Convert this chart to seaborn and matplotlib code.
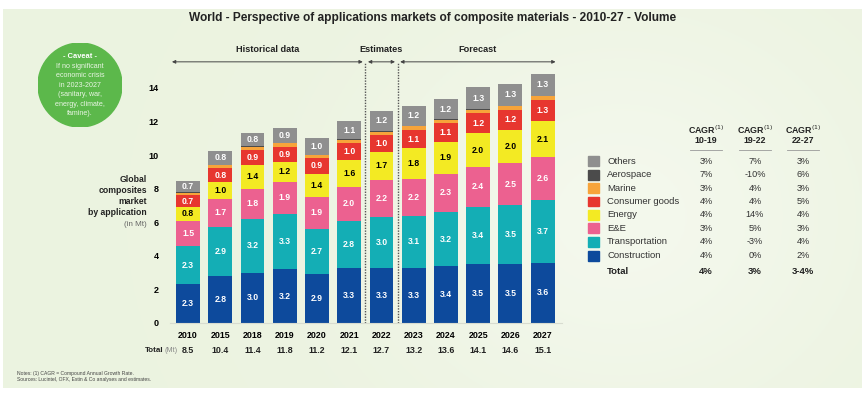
import numpy as np
import pandas as pd
import seaborn as sns
import matplotlib.pyplot as plt
from matplotlib.patches import Circle, Rectangle

years = ['2010', '2015', '2018', '2019', '2020', '2021', '2022', '2023', '2024', '2025', '2026', '2027']
totals = ['8.5', '10.4', '11.4', '11.8', '11.2', '12.1', '12.7', '13.2', '13.6', '14.1', '14.6', '15.1']

construction = [2.3, 2.8, 3.0, 3.2, 2.9, 3.3, 3.3, 3.3, 3.4, 3.5, 3.5, 3.6]
transportation = [2.3, 2.9, 3.2, 3.3, 2.7, 2.8, 3.0, 3.1, 3.2, 3.4, 3.5, 3.7]
ee = [1.5, 1.7, 1.8, 1.9, 1.9, 2.0, 2.2, 2.2, 2.3, 2.4, 2.5, 2.6]
energy = [0.8, 1.0, 1.4, 1.2, 1.4, 1.6, 1.7, 1.8, 1.9, 2.0, 2.0, 2.1]
consumer = [0.7, 0.8, 0.9, 0.9, 0.9, 1.0, 1.0, 1.1, 1.1, 1.2, 1.2, 1.3]
marine = [0.15, 0.2, 0.2, 0.2, 0.2, 0.2, 0.2, 0.2, 0.2, 0.2, 0.2, 0.2]
aerospace = [0.03, 0.03, 0.03, 0.03, 0.03, 0.03, 0.03, 0.03, 0.03, 0.03, 0.03, 0.03]
others = [0.7, 0.8, 0.8, 0.9, 1.0, 1.1, 1.2, 1.2, 1.2, 1.3, 1.3, 1.3]

segments = ['Construction', 'Transportation', 'E&E', 'Energy', 'Consumer goods', 'Marine', 'Aerospace', 'Others']
seg_values = [construction, transportation, ee, energy, consumer, marine, aerospace, others]
colors = ['#0d4a9c', '#14aeb5', '#ec6190', '#f3ea23', '#e7362f', '#f7a43a', '#4b4b4b', '#8f8f8f']
label_colors = ['white', 'white', 'white', 'black', 'white', None, None, 'white']

cagr_1019 = ['3%', '7%', '3%', '4%', '4%', '3%', '4%', '4%']
cagr_1922 = ['7%', '-10%', '4%', '4%', '14%', '5%', '-3%', '0%']
cagr_2227 = ['3%', '6%', '3%', '5%', '4%', '3%', '4%', '2%']
cagr_total = ['4%', '3%', '3-4%']

df = pd.DataFrame({'year': years})
for name, vals in zip(segments, seg_values):
    df[name] = vals
cum = df[segments].cumsum(axis=1)

plt.rcParams['font.family'] = ['Liberation Sans', 'DejaVu Sans']

W, H = 865, 393
fig = plt.figure(figsize=(W / 100, H / 100), dpi=100)
fig.patch.set_facecolor('white')

# background panel with soft gradient
bg = fig.add_axes([0.004, 0.012, 0.992, 0.965])
grad = np.linspace(0, 1, 256)
gx, gy = np.meshgrid(grad, grad)
shade = np.clip(0.7 * np.exp(-((gx - 0.72) ** 2) / 0.08 - ((gy - 0.55) ** 2) / 0.3), 0, 1)
c0 = np.array([0.925, 0.953, 0.88])
c1 = np.array([0.97, 0.983, 0.95])
img = c0[None, None, :] * (1 - shade[..., None]) + c1[None, None, :] * shade[..., None]
bg.imshow(img, aspect='auto', extent=[0, 1, 0, 1])
bg.set_axis_off()

def fx(px):
    return px / W

def fy(py):
    return 1 - py / H

ax = fig.add_axes([fx(170), fy(323), fx(392), (323 - 61) / H])
ax.patch.set_alpha(0)

# overlay cumulative bars, top of stack first
for i in range(len(segments) - 1, -1, -1):
    sns.barplot(x=df['year'], y=cum[segments[i]], color=colors[i], saturation=1,
                width=0.74, linewidth=0, ax=ax)

for i, name in enumerate(segments):
    if label_colors[i] is None:
        continue
    for j in range(len(years)):
        val = df[name][j]
        mid = cum[name][j] - val / 2
        ax.text(j, mid, f'{val:.1f}', ha='center', va='center', fontsize=6.2,
                fontweight='bold', color=label_colors[i])

ax.set_xlim(-0.56, 11.6)
ax.set_ylim(0, 15.6)
ax.set_yticks([0, 2, 4, 6, 8, 10, 12, 14])
ax.set_yticklabels([str(v) for v in [0, 2, 4, 6, 8, 10, 12, 14]], fontsize=6.5, fontweight='bold')
ax.tick_params(axis='y', length=0, pad=8)
ax.tick_params(axis='x', length=0, pad=6, labelsize=6.4)
for lbl in ax.get_xticklabels():
    lbl.set_fontweight('bold')
ax.set_xlabel('')
ax.set_ylabel('')
for s in ['top', 'right', 'left']:
    ax.spines[s].set_visible(False)
ax.spines['bottom'].set_color('#d8dcd0')
ax.spines['bottom'].set_linewidth(0.8)

# dotted separators
for xv in [5.5, 6.5]:
    ax.plot([xv, xv], [0, 15.55], color='#555555', lw=1.0, ls=(0, (1, 1)), clip_on=False)

# period arrows
arrow_y = 15.55
for x0, x1, label in [(-0.5, 5.42, 'Historical data'), (5.58, 6.42, 'Estimates'), (6.58, 11.4, 'Forecast')]:
    ax.annotate('', xy=(x1, arrow_y), xytext=(x0, arrow_y),
                arrowprops=dict(arrowstyle='<|-|>', color='#444444', lw=0.7,
                                mutation_scale=5, shrinkA=0, shrinkB=0),
                annotation_clip=False)
    ax.text((x0 + x1) / 2, arrow_y + 0.75, label, ha='center', va='center',
            fontsize=6.6, fontweight='bold', color='#222222', clip_on=False)

# total row
ax.text(-0.75, -1.65, 'Total', ha='right', va='center', fontsize=5.8, fontweight='bold', color='#222222')
ax.text(-0.72, -1.65, '(Mt)', ha='left', va='center', fontsize=5.2, color='#888888')
for j, t in enumerate(totals):
    ax.text(j, -1.65, t, ha='center', va='center', fontsize=6.4, fontweight='bold', color='#222222')

# y axis caption
fig.text(fx(147), fy(196), 'Global\ncomposites\nmarket\nby application', ha='right', va='center',
         fontsize=6.2, fontweight='bold', color='#222222', linespacing=1.25)
fig.text(fx(147), fy(225), '(in Mt)', ha='right', va='center', fontsize=5.8, color='#666666')

# title
fig.text(0.5, fy(18), 'World - Perspective of applications markets of composite materials - 2010-27 - Volume',
         ha='center', va='center', fontsize=8.6, fontweight='bold', color='#222222')

# caveat bubble
bubble = fig.add_axes([fx(38), fy(127), fx(84), 84 / H])
bubble.set_xlim(-1, 1)
bubble.set_ylim(-1, 1)
bubble.set_axis_off()
bubble.add_patch(Circle((0, 0), 1, color='#5cb84b'))
bubble.text(0, 0.67, '- Caveat -', ha='center', va='center', fontsize=5.4, fontweight='bold', color='white')
for k, line in enumerate(['If no significant', 'economic crisis', 'in 2023-2027', '(sanitary, war,',
                          'energy, climate,', 'famine).']):
    bubble.text(0, 0.44 - k * 0.225, line, ha='center', va='center', fontsize=5.1, color='#e9f5e4')

# legend / CAGR table
col_x = [fx(706), fx(755), fx(803)]
for cx, period in zip(col_x, ['10-19', '19-22', '22-27']):
    fig.text(cx, fy(130), 'CAGR$^{(1)}$', ha='center', va='center', fontsize=6.4, fontweight='bold', color='#222222')
    fig.text(cx, fy(140), period, ha='center', va='center', fontsize=6.4, fontweight='bold', color='#222222')
    fig.add_artist(plt.Line2D([cx - fx(16), cx + fx(16)], [fy(150), fy(150)], color='#999999', lw=0.6))

order = list(range(len(segments) - 1, -1, -1))
for r, i in enumerate(order):
    y = fy(161 + r * 13.5)
    fig.add_artist(Rectangle((fx(588), y - 5 / H), fx(11), 10 / H, color=colors[i]))
    fig.text(fx(607), y, segments[i], ha='left', va='center', fontsize=6.8, color='#333333')
    for cx, col in zip(col_x, [cagr_1019, cagr_1922, cagr_2227]):
        fig.text(cx, y, col[r], ha='center', va='center', fontsize=6.6, color='#333333')
fig.text(fx(607), fy(272), 'Total', ha='left', va='center', fontsize=6.8, fontweight='bold', color='#222222')
for cx, t in zip(col_x, cagr_total):
    fig.text(cx, fy(272), t, ha='center', va='center', fontsize=6.8, fontweight='bold', color='#222222')

# notes
fig.text(fx(17), fy(373), 'Notes: (1) CAGR = Compound Annual Growth Rate.', ha='left', va='center',
         fontsize=3.6, color='#444444')
fig.text(fx(17), fy(380), 'Sources: Lucintel, OFX, Estin & Co analyses and estimates.', ha='left', va='center',
         fontsize=3.6, color='#444444')

fig.savefig('out.png', dpi=100)
